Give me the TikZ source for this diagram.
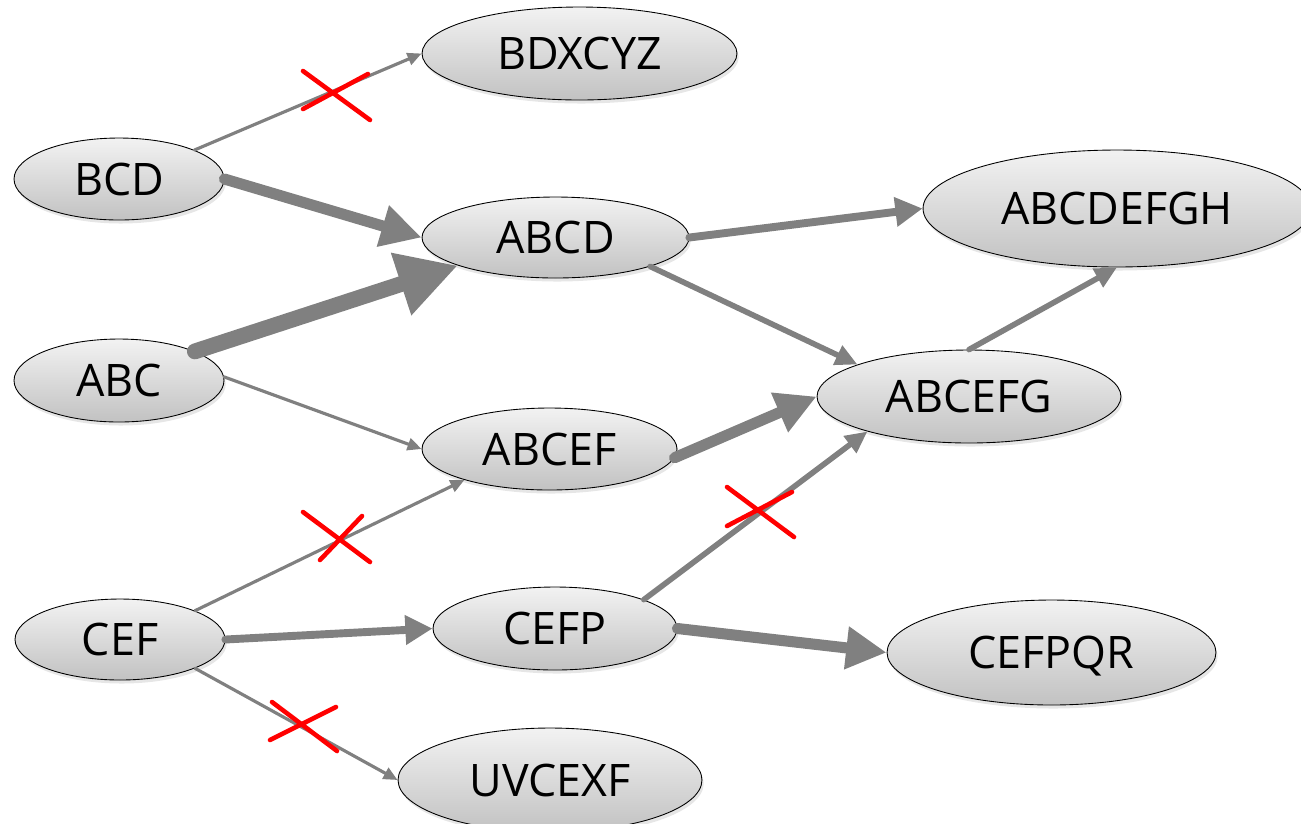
\documentclass[tikz,border=0pt]{standalone}
\usepackage{fontspec}
\setmainfont{Open Sans}
\usetikzlibrary{arrows.meta,shapes.geometric,shadows}

\begin{document}
\begin{tikzpicture}[x=0.02cm,y=-0.02cm,
  set/.style={ellipse,draw=black,line width=0.5pt,inner sep=0pt,text depth=0pt,
    top color=black!5,bottom color=black!24,
    drop shadow={shadow xshift=1pt,shadow yshift=-2pt,opacity=0.2},
    font=\fontsize{25.5}{30}\selectfont},
  link/.style={draw=gray,fill=gray,line cap=round},
  wt1/.style={link,line width=1.8pt,-{Triangle[length=8pt,width=7pt]}},
  wt2/.style={link,line width=3.2pt,-{Triangle[length=12.5pt,width=11.5pt]}},
  wt3/.style={link,line width=4.5pt,-{Triangle[length=15.5pt,width=16pt]}},
  wt4/.style={link,line width=6.3pt,-{Triangle[length=23pt,width=23pt]}},
  wt5/.style={link,line width=9pt,-{Triangle[length=34pt,width=35pt]}},
  cut/.style={red,line width=2.6pt,line cap=round}]
  \useasboundingbox (0,0) rectangle (1301,823);

  % itemsets
  \node[set,minimum width=6.3cm,minimum height=1.86cm] (bdx) at (579.5,53.5) {BDXCYZ};
  \node[set,minimum width=4.2cm,minimum height=1.64cm] (bcd) at (119,179) {BCD};
  \node[set,minimum width=5.34cm,minimum height=1.62cm] (abcd) at (555.5,237.5) {ABCD};
  \node[set,minimum width=7.76cm,minimum height=2.34cm] (abcdefgh) at (1117,208.5) {ABCDEFGH};
  \node[set,minimum width=4.2cm,minimum height=1.66cm] (abc) at (119,380.5) {ABC};
  \node[set,minimum width=6.08cm,minimum height=1.86cm] (abcefg) at (969,396.5) {ABCEFG};
  \node[set,minimum width=5.1cm,minimum height=1.64cm] (abcef) at (549.5,449) {ABCEF};
  \node[set,minimum width=4.2cm,minimum height=1.62cm] (cef) at (120,639.5) {CEF};
  \node[set,minimum width=4.88cm,minimum height=1.66cm] (cefp) at (555,628.5) {CEFP};
  \node[set,minimum width=6.58cm,minimum height=2.1cm] (cefpqr) at (1051.5,652.5) {CEFPQR};
  \node[set,minimum width=6.08cm,minimum height=2.08cm] (uvc) at (550,780) {UVCEXF};

  % links
  \draw[wt1] (bcd.21) -- (bdx.west);
  \draw[wt4] (bcd.east) -- (abcd.west);
  \draw[wt5] (abc.21) -- (abcd.196);
  \draw[wt1] (abc.2) -- (abcef.west);
  \draw[wt3] (abcd.east) -- (abcdefgh.west);
  \draw[wt2] (abcd.-17) -- (abcefg.164);
  \draw[wt2] (abcefg.north) -- (abcdefgh.south);
  \draw[wt4] (abcef.-4) -- (abcefg.west);
  \draw[wt1] (cef.21) -- (abcef.200);
  \draw[wt3] (cef.east) -- (cefp.west);
  \draw[wt1] (cef.-21) -- (uvc.west);
  \draw[wt2] (cefp.18) -- (abcefg.199);
  \draw[wt4] (cefp.east) -- (cefpqr.west);

  % pruned links
  \draw[cut] (336,95) ++(-33,-24) -- ++(67,49) (336,95) ++(-33,14) -- ++(65,-35);
  \draw[cut] (337,537) ++(-34,-25) -- ++(67,50) (337,537) ++(-17,23) -- ++(42,-44);
  \draw[cut] (760,512) ++(-33,-25) -- ++(67,50) (760,512) ++(-33,14) -- ++(65,-34);
  \draw[cut] (303,728) ++(-31,-26) -- ++(65,49) (303,728) ++(-33,12) -- ++(66,-33);
\end{tikzpicture}
\end{document}
